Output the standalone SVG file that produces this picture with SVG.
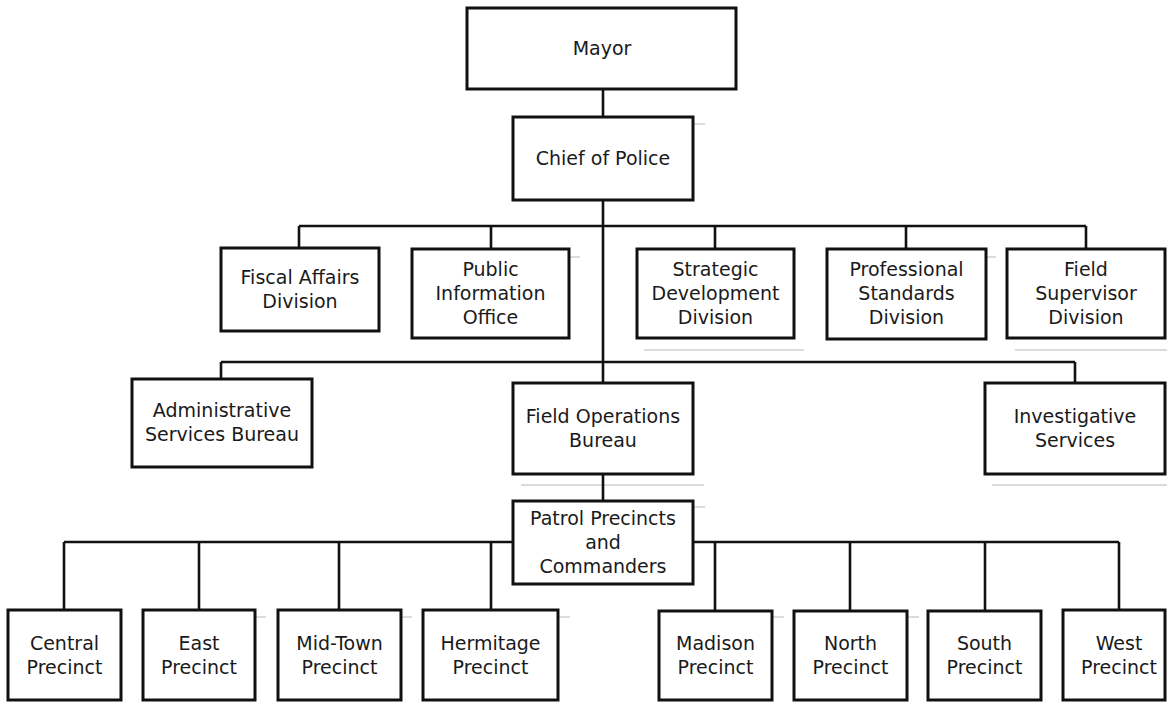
<svg xmlns="http://www.w3.org/2000/svg" width="1167" height="702" viewBox="0 0 1167 702">
<style>
.box{fill:#fff;stroke:#111;stroke-width:3}
.t{font-family:"DejaVu Sans",Verdana,sans-serif;font-size:19px;fill:#1a1a1a;text-anchor:middle}
.c{fill:none;stroke:#111;stroke-width:2.6}
.g{fill:none;stroke:#dcdcdc;stroke-width:2}
</style>
<rect width="1167" height="702" fill="#fff"/>
<g id="artifacts">
<path class="g" d="M644 350H804M1015 350H1167M521 485H704M992 485H1167M569 257H580M986 257H996M693 124H705M693 507H705M255 617H266M401 617H412M558 617H570M772 617H784M907 617H919"/>
</g>
<g id="connectors">
<path class="c" d="M603 89V117M603 200V383M603 474V501M299 226H1086M299 226V248M491 226V249M715 226V249M906 226V249M1086 226V249M221 362H1075M221 362V379M1075 362V383M64 542H513M64 542V610M199 542V610M339 542V610M491 542V610M693 542H1119M715 542V611M850 542V611M985 542V611M1119 542V610"/>
</g>
<g id="mayor"><rect class="box" x="467" y="8" width="269" height="81"/><text class="t" x="602" y="55">Mayor</text></g>
<g id="chief"><rect class="box" x="513" y="117" width="180" height="83"/><text class="t" x="603" y="165">Chief of Police</text></g>
<g id="fiscal"><rect class="box" x="221" y="248" width="158" height="83"/><text class="t" x="300" y="284">Fiscal Affairs</text><text class="t" x="300" y="308">Division</text></g>
<g id="public"><rect class="box" x="412" y="249" width="157" height="89"/><text class="t" x="490.5" y="276">Public</text><text class="t" x="490.5" y="300">Information</text><text class="t" x="490.5" y="324">Office</text></g>
<g id="strategic"><rect class="box" x="637" y="249" width="157" height="89"/><text class="t" x="715.5" y="276">Strategic</text><text class="t" x="715.5" y="300">Development</text><text class="t" x="715.5" y="324">Division</text></g>
<g id="professional"><rect class="box" x="827" y="249" width="159" height="90"/><text class="t" x="906.5" y="276">Professional</text><text class="t" x="906.5" y="300">Standards</text><text class="t" x="906.5" y="324">Division</text></g>
<g id="fieldsup"><rect class="box" x="1007" y="249" width="158" height="89"/><text class="t" x="1086" y="276">Field</text><text class="t" x="1086" y="300">Supervisor</text><text class="t" x="1086" y="324">Division</text></g>
<g id="admin"><rect class="box" x="132" y="379" width="180" height="88"/><text class="t" x="222" y="417">Administrative</text><text class="t" x="222" y="441">Services Bureau</text></g>
<g id="fieldops"><rect class="box" x="513" y="383" width="180" height="91"/><text class="t" x="603" y="423">Field Operations</text><text class="t" x="603" y="447">Bureau</text></g>
<g id="invest"><rect class="box" x="985" y="383" width="180" height="91"/><text class="t" x="1075" y="423">Investigative</text><text class="t" x="1075" y="447">Services</text></g>
<g id="patrol"><rect class="box" x="513" y="501" width="180" height="83"/><text class="t" x="603" y="525">Patrol Precincts</text><text class="t" x="603" y="549">and</text><text class="t" x="603" y="573">Commanders</text></g>
<g id="central"><rect class="box" x="8" y="610" width="113" height="90"/><text class="t" x="64.5" y="650">Central</text><text class="t" x="64.5" y="674">Precinct</text></g>
<g id="east"><rect class="box" x="143" y="610" width="112" height="90"/><text class="t" x="199" y="650">East</text><text class="t" x="199" y="674">Precinct</text></g>
<g id="midtown"><rect class="box" x="278" y="610" width="123" height="90"/><text class="t" x="339.5" y="650">Mid-Town</text><text class="t" x="339.5" y="674">Precinct</text></g>
<g id="hermitage"><rect class="box" x="423" y="610" width="135" height="90"/><text class="t" x="490.5" y="650">Hermitage</text><text class="t" x="490.5" y="674">Precinct</text></g>
<g id="madison"><rect class="box" x="659" y="611" width="113" height="89"/><text class="t" x="715.5" y="650">Madison</text><text class="t" x="715.5" y="674">Precinct</text></g>
<g id="north"><rect class="box" x="794" y="611" width="113" height="89"/><text class="t" x="850.5" y="650">North</text><text class="t" x="850.5" y="674">Precinct</text></g>
<g id="south"><rect class="box" x="928" y="611" width="113" height="89"/><text class="t" x="984.5" y="650">South</text><text class="t" x="984.5" y="674">Precinct</text></g>
<g id="west"><rect class="box" x="1063" y="610" width="102" height="90"/><text class="t" x="1119" y="650">West</text><text class="t" x="1119" y="674">Precinct</text></g>
</svg>
